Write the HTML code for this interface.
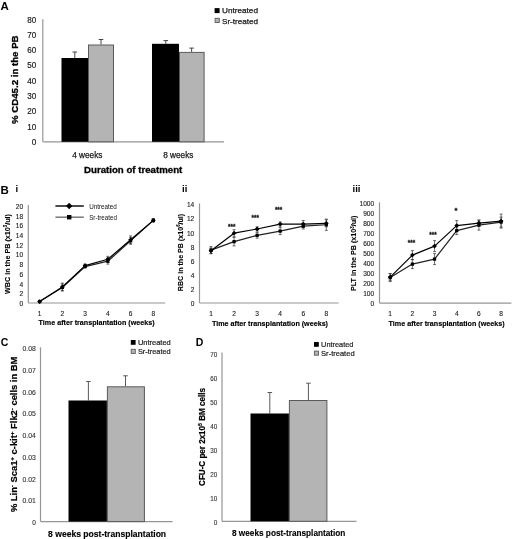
<!DOCTYPE html>
<html><head><meta charset="utf-8"><style>
html,body{margin:0;padding:0;background:#fff;}
body{width:520px;height:539px;overflow:hidden;}
svg{display:block;font-family:"Liberation Sans", sans-serif;filter:blur(0.3px);}
</style></head><body>
<svg width="520" height="539" viewBox="0 0 520 539" fill="#1a1a1a">
<rect width="520" height="539" fill="#fff"/>
<text x="0.50" y="10.30" font-size="11.5" font-weight="bold" fill="#000">A</text>
<line x1="42.80" y1="19.20" x2="42.80" y2="141.80" stroke="#969696" stroke-width="1.2"/>
<line x1="42.80" y1="141.80" x2="224.00" y2="141.80" stroke="#969696" stroke-width="1.2"/>
<text x="36.30" y="145.10" font-size="9.2" text-anchor="end" textLength="4.60" lengthAdjust="spacingAndGlyphs" stroke="#1a1a1a" stroke-width="0.2">0</text>
<text x="36.30" y="129.78" font-size="9.2" text-anchor="end" textLength="9.00" lengthAdjust="spacingAndGlyphs" stroke="#1a1a1a" stroke-width="0.2">10</text>
<text x="36.30" y="114.45" font-size="9.2" text-anchor="end" textLength="9.00" lengthAdjust="spacingAndGlyphs" stroke="#1a1a1a" stroke-width="0.2">20</text>
<text x="36.30" y="99.12" font-size="9.2" text-anchor="end" textLength="9.00" lengthAdjust="spacingAndGlyphs" stroke="#1a1a1a" stroke-width="0.2">30</text>
<text x="36.30" y="83.80" font-size="9.2" text-anchor="end" textLength="9.00" lengthAdjust="spacingAndGlyphs" stroke="#1a1a1a" stroke-width="0.2">40</text>
<text x="36.30" y="68.47" font-size="9.2" text-anchor="end" textLength="9.00" lengthAdjust="spacingAndGlyphs" stroke="#1a1a1a" stroke-width="0.2">50</text>
<text x="36.30" y="53.15" font-size="9.2" text-anchor="end" textLength="9.00" lengthAdjust="spacingAndGlyphs" stroke="#1a1a1a" stroke-width="0.2">60</text>
<text x="36.30" y="37.82" font-size="9.2" text-anchor="end" textLength="9.00" lengthAdjust="spacingAndGlyphs" stroke="#1a1a1a" stroke-width="0.2">70</text>
<text x="36.30" y="22.50" font-size="9.2" text-anchor="end" textLength="9.00" lengthAdjust="spacingAndGlyphs" stroke="#1a1a1a" stroke-width="0.2">80</text>
<line x1="74.80" y1="52.00" x2="74.80" y2="58.00" stroke="#444" stroke-width="1"/>
<line x1="72.50" y1="52.00" x2="77.10" y2="52.00" stroke="#444" stroke-width="1"/>
<line x1="101.00" y1="39.50" x2="101.00" y2="44.50" stroke="#444" stroke-width="1"/>
<line x1="98.70" y1="39.50" x2="103.30" y2="39.50" stroke="#444" stroke-width="1"/>
<line x1="165.80" y1="40.60" x2="165.80" y2="43.80" stroke="#444" stroke-width="1"/>
<line x1="163.50" y1="40.60" x2="168.10" y2="40.60" stroke="#444" stroke-width="1"/>
<line x1="191.60" y1="48.10" x2="191.60" y2="51.90" stroke="#444" stroke-width="1"/>
<line x1="189.30" y1="48.10" x2="193.90" y2="48.10" stroke="#444" stroke-width="1"/>
<rect x="61.50" y="58.00" width="26.50" height="83.80" fill="#000"/>
<rect x="88.50" y="45.00" width="25.00" height="96.80" fill="#b4b4b4" stroke="#5a5a5a" stroke-width="1"/>
<rect x="152.00" y="43.80" width="27.00" height="98.00" fill="#000"/>
<rect x="179.50" y="52.40" width="24.60" height="89.40" fill="#b4b4b4" stroke="#5a5a5a" stroke-width="1"/>
<rect x="214.60" y="8.10" width="5.00" height="5.00" fill="#000"/>
<rect x="215.10" y="18.30" width="4.20" height="4.20" fill="#b4b4b4" stroke="#5a5a5a" stroke-width="0.9"/>
<text x="222.00" y="13.40" font-size="7.8" textLength="36.00" lengthAdjust="spacingAndGlyphs" stroke="#1a1a1a" stroke-width="0.25">Untreated</text>
<text x="222.00" y="23.50" font-size="7.8" textLength="36.00" lengthAdjust="spacingAndGlyphs" stroke="#1a1a1a" stroke-width="0.25">Sr-treated</text>
<text x="87.30" y="158.00" font-size="8.8" text-anchor="middle" textLength="30.20" lengthAdjust="spacingAndGlyphs" stroke="#1a1a1a" stroke-width="0.25">4 weeks</text>
<text x="178.30" y="158.00" font-size="8.8" text-anchor="middle" textLength="30.20" lengthAdjust="spacingAndGlyphs" stroke="#1a1a1a" stroke-width="0.25">8 weeks</text>
<text x="84.00" y="173.30" font-size="9.0" font-weight="bold" textLength="98.30" lengthAdjust="spacingAndGlyphs" fill="#000" stroke="#000" stroke-width="0.3">Duration of treatment</text>
<text x="17.90" y="79.70" font-size="9.2" text-anchor="middle" font-weight="bold" textLength="88.60" lengthAdjust="spacingAndGlyphs" fill="#000" transform="rotate(-90 17.90 79.70)" stroke="#000" stroke-width="0.3">% CD45.2 in the PB</text>
<text x="0.50" y="193.80" font-size="11.5" font-weight="bold" fill="#000">B</text>
<text x="15.60" y="191.60" font-size="9.5" font-weight="bold" fill="#000">i</text>
<text x="182.00" y="192.20" font-size="9.5" font-weight="bold" fill="#000">ii</text>
<text x="352.60" y="192.20" font-size="9.5" font-weight="bold" fill="#000">iii</text>
<line x1="28.30" y1="205.00" x2="28.30" y2="303.00" stroke="#969696" stroke-width="1.2"/>
<line x1="28.30" y1="303.00" x2="165.20" y2="303.00" stroke="#969696" stroke-width="1.2"/>
<text x="23.20" y="306.00" font-size="6.6" text-anchor="end" fill="#222" stroke="#222" stroke-width="0.12">0</text>
<text x="23.20" y="296.28" font-size="6.6" text-anchor="end" fill="#222" stroke="#222" stroke-width="0.12">2</text>
<text x="23.20" y="286.56" font-size="6.6" text-anchor="end" fill="#222" stroke="#222" stroke-width="0.12">4</text>
<text x="23.20" y="276.84" font-size="6.6" text-anchor="end" fill="#222" stroke="#222" stroke-width="0.12">6</text>
<text x="23.20" y="267.12" font-size="6.6" text-anchor="end" fill="#222" stroke="#222" stroke-width="0.12">8</text>
<text x="23.20" y="257.40" font-size="6.6" text-anchor="end" fill="#222" stroke="#222" stroke-width="0.12">10</text>
<text x="23.20" y="247.68" font-size="6.6" text-anchor="end" fill="#222" stroke="#222" stroke-width="0.12">12</text>
<text x="23.20" y="237.96" font-size="6.6" text-anchor="end" fill="#222" stroke="#222" stroke-width="0.12">14</text>
<text x="23.20" y="228.24" font-size="6.6" text-anchor="end" fill="#222" stroke="#222" stroke-width="0.12">16</text>
<text x="23.20" y="218.52" font-size="6.6" text-anchor="end" fill="#222" stroke="#222" stroke-width="0.12">18</text>
<text x="23.20" y="208.80" font-size="6.6" text-anchor="end" fill="#222" stroke="#222" stroke-width="0.12">20</text>
<text x="39.60" y="315.60" font-size="6.6" text-anchor="middle" fill="#222" stroke="#222" stroke-width="0.12">1</text>
<text x="62.35" y="315.60" font-size="6.6" text-anchor="middle" fill="#222" stroke="#222" stroke-width="0.12">2</text>
<text x="85.10" y="315.60" font-size="6.6" text-anchor="middle" fill="#222" stroke="#222" stroke-width="0.12">3</text>
<text x="107.85" y="315.60" font-size="6.6" text-anchor="middle" fill="#222" stroke="#222" stroke-width="0.12">4</text>
<text x="130.60" y="315.60" font-size="6.6" text-anchor="middle" fill="#222" stroke="#222" stroke-width="0.12">6</text>
<text x="153.35" y="315.60" font-size="6.6" text-anchor="middle" fill="#222" stroke="#222" stroke-width="0.12">8</text>
<text x="38.60" y="325.00" font-size="7.7" font-weight="bold" textLength="116.00" lengthAdjust="spacingAndGlyphs" fill="#000" stroke="#000" stroke-width="0.15">Time after transplantation (weeks)</text>
<text x="9.60" y="254.00" font-size="7.5" text-anchor="middle" font-weight="bold" textLength="80.00" lengthAdjust="spacingAndGlyphs" fill="#000" transform="rotate(-90 9.60 254.00)" stroke="#000" stroke-width="0.12">WBC in the PB (x10<tspan font-size="4.5" dy="-2.6">3</tspan><tspan dy="2.6">/ul)</tspan></text>
<line x1="39.60" y1="300.81" x2="39.60" y2="302.27" stroke="#333" stroke-width="0.7"/>
<line x1="38.10" y1="300.81" x2="41.10" y2="300.81" stroke="#333" stroke-width="0.7"/>
<line x1="38.10" y1="302.27" x2="41.10" y2="302.27" stroke="#333" stroke-width="0.7"/>
<line x1="62.35" y1="283.07" x2="62.35" y2="290.85" stroke="#333" stroke-width="0.7"/>
<line x1="60.85" y1="283.07" x2="63.85" y2="283.07" stroke="#333" stroke-width="0.7"/>
<line x1="60.85" y1="290.85" x2="63.85" y2="290.85" stroke="#333" stroke-width="0.7"/>
<line x1="85.10" y1="264.12" x2="85.10" y2="267.04" stroke="#333" stroke-width="0.7"/>
<line x1="83.60" y1="264.12" x2="86.60" y2="264.12" stroke="#333" stroke-width="0.7"/>
<line x1="83.60" y1="267.04" x2="86.60" y2="267.04" stroke="#333" stroke-width="0.7"/>
<line x1="107.85" y1="256.34" x2="107.85" y2="262.18" stroke="#333" stroke-width="0.7"/>
<line x1="106.35" y1="256.34" x2="109.35" y2="256.34" stroke="#333" stroke-width="0.7"/>
<line x1="106.35" y1="262.18" x2="109.35" y2="262.18" stroke="#333" stroke-width="0.7"/>
<line x1="130.60" y1="235.93" x2="130.60" y2="243.71" stroke="#333" stroke-width="0.7"/>
<line x1="129.10" y1="235.93" x2="132.10" y2="235.93" stroke="#333" stroke-width="0.7"/>
<line x1="129.10" y1="243.71" x2="132.10" y2="243.71" stroke="#333" stroke-width="0.7"/>
<line x1="153.35" y1="218.92" x2="153.35" y2="221.84" stroke="#333" stroke-width="0.7"/>
<line x1="151.85" y1="218.92" x2="154.85" y2="218.92" stroke="#333" stroke-width="0.7"/>
<line x1="151.85" y1="221.84" x2="154.85" y2="221.84" stroke="#333" stroke-width="0.7"/>
<line x1="39.60" y1="300.81" x2="39.60" y2="302.27" stroke="#333" stroke-width="0.7"/>
<line x1="38.10" y1="300.81" x2="41.10" y2="300.81" stroke="#333" stroke-width="0.7"/>
<line x1="38.10" y1="302.27" x2="41.10" y2="302.27" stroke="#333" stroke-width="0.7"/>
<line x1="62.35" y1="284.05" x2="62.35" y2="290.85" stroke="#333" stroke-width="0.7"/>
<line x1="60.85" y1="284.05" x2="63.85" y2="284.05" stroke="#333" stroke-width="0.7"/>
<line x1="60.85" y1="290.85" x2="63.85" y2="290.85" stroke="#333" stroke-width="0.7"/>
<line x1="85.10" y1="265.09" x2="85.10" y2="268.01" stroke="#333" stroke-width="0.7"/>
<line x1="83.60" y1="265.09" x2="86.60" y2="265.09" stroke="#333" stroke-width="0.7"/>
<line x1="83.60" y1="268.01" x2="86.60" y2="268.01" stroke="#333" stroke-width="0.7"/>
<line x1="107.85" y1="258.29" x2="107.85" y2="264.12" stroke="#333" stroke-width="0.7"/>
<line x1="106.35" y1="258.29" x2="109.35" y2="258.29" stroke="#333" stroke-width="0.7"/>
<line x1="106.35" y1="264.12" x2="109.35" y2="264.12" stroke="#333" stroke-width="0.7"/>
<line x1="130.60" y1="237.39" x2="130.60" y2="244.19" stroke="#333" stroke-width="0.7"/>
<line x1="129.10" y1="237.39" x2="132.10" y2="237.39" stroke="#333" stroke-width="0.7"/>
<line x1="129.10" y1="244.19" x2="132.10" y2="244.19" stroke="#333" stroke-width="0.7"/>
<line x1="153.35" y1="218.92" x2="153.35" y2="221.84" stroke="#333" stroke-width="0.7"/>
<line x1="151.85" y1="218.92" x2="154.85" y2="218.92" stroke="#333" stroke-width="0.7"/>
<line x1="151.85" y1="221.84" x2="154.85" y2="221.84" stroke="#333" stroke-width="0.7"/>
<polyline points="39.60,301.54 62.35,287.45 85.10,266.55 107.85,261.20 130.60,240.79 153.35,220.38" fill="none" stroke="#222" stroke-width="1.2" stroke-linejoin="round"/>
<polyline points="39.60,301.54 62.35,286.96 85.10,265.58 107.85,259.26 130.60,239.82 153.35,220.38" fill="none" stroke="#000" stroke-width="1.2" stroke-linejoin="round"/>
<rect x="37.98" y="299.93" width="3.23" height="3.23" fill="#000"/>
<rect x="60.73" y="285.83" width="3.23" height="3.23" fill="#000"/>
<rect x="83.48" y="264.94" width="3.23" height="3.23" fill="#000"/>
<rect x="106.23" y="259.59" width="3.23" height="3.23" fill="#000"/>
<rect x="128.98" y="239.18" width="3.23" height="3.23" fill="#000"/>
<rect x="151.73" y="218.76" width="3.23" height="3.23" fill="#000"/>
<path d="M39.60 299.14L42.00 301.54L39.60 303.94L37.20 301.54Z" fill="#000"/>
<path d="M62.35 284.56L64.75 286.96L62.35 289.36L59.95 286.96Z" fill="#000"/>
<path d="M85.10 263.18L87.50 265.58L85.10 267.98L82.70 265.58Z" fill="#000"/>
<path d="M107.85 256.86L110.25 259.26L107.85 261.66L105.45 259.26Z" fill="#000"/>
<path d="M130.60 237.42L133.00 239.82L130.60 242.22L128.20 239.82Z" fill="#000"/>
<path d="M153.35 217.98L155.75 220.38L153.35 222.78L150.95 220.38Z" fill="#000"/>
<line x1="55.40" y1="206.00" x2="83.80" y2="206.00" stroke="#000" stroke-width="1.4"/>
<path d="M69.20 202.80L72.40 206.00L69.20 209.20L66.00 206.00Z" fill="#000"/>
<line x1="55.40" y1="217.20" x2="83.80" y2="217.20" stroke="#777" stroke-width="1.5"/>
<rect x="66.99" y="214.99" width="4.42" height="4.42" fill="#000"/>
<text x="89.20" y="208.90" font-size="7.0" textLength="27.70" lengthAdjust="spacingAndGlyphs" fill="#111">Untreated</text>
<text x="89.20" y="220.00" font-size="7.0" textLength="27.70" lengthAdjust="spacingAndGlyphs" fill="#111">Sr-treated</text>
<line x1="199.50" y1="203.50" x2="199.50" y2="303.00" stroke="#969696" stroke-width="1.2"/>
<line x1="199.50" y1="303.00" x2="338.60" y2="303.00" stroke="#969696" stroke-width="1.2"/>
<text x="194.30" y="306.00" font-size="6.6" text-anchor="end" fill="#222" stroke="#222" stroke-width="0.12">0</text>
<text x="194.30" y="291.90" font-size="6.6" text-anchor="end" fill="#222" stroke="#222" stroke-width="0.12">2</text>
<text x="194.30" y="277.80" font-size="6.6" text-anchor="end" fill="#222" stroke="#222" stroke-width="0.12">4</text>
<text x="194.30" y="263.70" font-size="6.6" text-anchor="end" fill="#222" stroke="#222" stroke-width="0.12">6</text>
<text x="194.30" y="249.60" font-size="6.6" text-anchor="end" fill="#222" stroke="#222" stroke-width="0.12">8</text>
<text x="194.30" y="235.50" font-size="6.6" text-anchor="end" fill="#222" stroke="#222" stroke-width="0.12">10</text>
<text x="194.30" y="221.40" font-size="6.6" text-anchor="end" fill="#222" stroke="#222" stroke-width="0.12">12</text>
<text x="194.30" y="207.30" font-size="6.6" text-anchor="end" fill="#222" stroke="#222" stroke-width="0.12">14</text>
<text x="211.00" y="315.60" font-size="6.6" text-anchor="middle" fill="#222" stroke="#222" stroke-width="0.12">1</text>
<text x="234.06" y="315.60" font-size="6.6" text-anchor="middle" fill="#222" stroke="#222" stroke-width="0.12">2</text>
<text x="257.12" y="315.60" font-size="6.6" text-anchor="middle" fill="#222" stroke="#222" stroke-width="0.12">3</text>
<text x="280.18" y="315.60" font-size="6.6" text-anchor="middle" fill="#222" stroke="#222" stroke-width="0.12">4</text>
<text x="303.24" y="315.60" font-size="6.6" text-anchor="middle" fill="#222" stroke="#222" stroke-width="0.12">6</text>
<text x="326.30" y="315.60" font-size="6.6" text-anchor="middle" fill="#222" stroke="#222" stroke-width="0.12">8</text>
<text x="212.00" y="326.10" font-size="7.7" font-weight="bold" textLength="116.00" lengthAdjust="spacingAndGlyphs" fill="#000" stroke="#000" stroke-width="0.15">Time after transplantation (weeks)</text>
<text x="182.80" y="252.50" font-size="7.5" text-anchor="middle" font-weight="bold" textLength="77.40" lengthAdjust="spacingAndGlyphs" fill="#000" transform="rotate(-90 182.80 252.50)" stroke="#000" stroke-width="0.12">RBC in the PB (x10<tspan font-size="4.5" dy="-2.6">6</tspan><tspan dy="2.6">/ul)</tspan></text>
<line x1="211.00" y1="248.01" x2="211.00" y2="253.65" stroke="#333" stroke-width="0.7"/>
<line x1="209.50" y1="248.01" x2="212.50" y2="248.01" stroke="#333" stroke-width="0.7"/>
<line x1="209.50" y1="253.65" x2="212.50" y2="253.65" stroke="#333" stroke-width="0.7"/>
<line x1="234.06" y1="229.68" x2="234.06" y2="236.73" stroke="#333" stroke-width="0.7"/>
<line x1="232.56" y1="229.68" x2="235.56" y2="229.68" stroke="#333" stroke-width="0.7"/>
<line x1="232.56" y1="236.73" x2="235.56" y2="236.73" stroke="#333" stroke-width="0.7"/>
<line x1="257.12" y1="226.86" x2="257.12" y2="231.09" stroke="#333" stroke-width="0.7"/>
<line x1="255.62" y1="226.86" x2="258.62" y2="226.86" stroke="#333" stroke-width="0.7"/>
<line x1="255.62" y1="231.09" x2="258.62" y2="231.09" stroke="#333" stroke-width="0.7"/>
<line x1="280.18" y1="221.93" x2="280.18" y2="226.16" stroke="#333" stroke-width="0.7"/>
<line x1="278.68" y1="221.93" x2="281.68" y2="221.93" stroke="#333" stroke-width="0.7"/>
<line x1="278.68" y1="226.16" x2="281.68" y2="226.16" stroke="#333" stroke-width="0.7"/>
<line x1="303.24" y1="220.52" x2="303.24" y2="227.56" stroke="#333" stroke-width="0.7"/>
<line x1="301.74" y1="220.52" x2="304.74" y2="220.52" stroke="#333" stroke-width="0.7"/>
<line x1="301.74" y1="227.56" x2="304.74" y2="227.56" stroke="#333" stroke-width="0.7"/>
<line x1="326.30" y1="219.81" x2="326.30" y2="226.86" stroke="#333" stroke-width="0.7"/>
<line x1="324.80" y1="219.81" x2="327.80" y2="219.81" stroke="#333" stroke-width="0.7"/>
<line x1="324.80" y1="226.86" x2="327.80" y2="226.86" stroke="#333" stroke-width="0.7"/>
<line x1="211.00" y1="246.60" x2="211.00" y2="253.65" stroke="#333" stroke-width="0.7"/>
<line x1="209.50" y1="246.60" x2="212.50" y2="246.60" stroke="#333" stroke-width="0.7"/>
<line x1="209.50" y1="253.65" x2="212.50" y2="253.65" stroke="#333" stroke-width="0.7"/>
<line x1="234.06" y1="237.44" x2="234.06" y2="245.90" stroke="#333" stroke-width="0.7"/>
<line x1="232.56" y1="237.44" x2="235.56" y2="237.44" stroke="#333" stroke-width="0.7"/>
<line x1="232.56" y1="245.90" x2="235.56" y2="245.90" stroke="#333" stroke-width="0.7"/>
<line x1="257.12" y1="232.50" x2="257.12" y2="238.14" stroke="#333" stroke-width="0.7"/>
<line x1="255.62" y1="232.50" x2="258.62" y2="232.50" stroke="#333" stroke-width="0.7"/>
<line x1="255.62" y1="238.14" x2="258.62" y2="238.14" stroke="#333" stroke-width="0.7"/>
<line x1="280.18" y1="227.56" x2="280.18" y2="234.62" stroke="#333" stroke-width="0.7"/>
<line x1="278.68" y1="227.56" x2="281.68" y2="227.56" stroke="#333" stroke-width="0.7"/>
<line x1="278.68" y1="234.62" x2="281.68" y2="234.62" stroke="#333" stroke-width="0.7"/>
<line x1="303.24" y1="223.34" x2="303.24" y2="228.98" stroke="#333" stroke-width="0.7"/>
<line x1="301.74" y1="223.34" x2="304.74" y2="223.34" stroke="#333" stroke-width="0.7"/>
<line x1="301.74" y1="228.98" x2="304.74" y2="228.98" stroke="#333" stroke-width="0.7"/>
<line x1="326.30" y1="219.11" x2="326.30" y2="230.39" stroke="#333" stroke-width="0.7"/>
<line x1="324.80" y1="219.11" x2="327.80" y2="219.11" stroke="#333" stroke-width="0.7"/>
<line x1="324.80" y1="230.39" x2="327.80" y2="230.39" stroke="#333" stroke-width="0.7"/>
<polyline points="211.00,250.12 234.06,241.67 257.12,235.32 280.18,231.09 303.24,226.16 326.30,224.75" fill="none" stroke="#222" stroke-width="1.2" stroke-linejoin="round"/>
<polyline points="211.00,250.83 234.06,233.21 257.12,228.98 280.18,224.04 303.24,224.04 326.30,223.34" fill="none" stroke="#000" stroke-width="1.2" stroke-linejoin="round"/>
<rect x="209.38" y="248.51" width="3.23" height="3.23" fill="#000"/>
<rect x="232.44" y="240.05" width="3.23" height="3.23" fill="#000"/>
<rect x="255.50" y="233.70" width="3.23" height="3.23" fill="#000"/>
<rect x="278.56" y="229.48" width="3.23" height="3.23" fill="#000"/>
<rect x="301.62" y="224.54" width="3.23" height="3.23" fill="#000"/>
<rect x="324.69" y="223.13" width="3.23" height="3.23" fill="#000"/>
<path d="M211.00 248.43L213.40 250.83L211.00 253.23L208.60 250.83Z" fill="#000"/>
<path d="M234.06 230.81L236.46 233.21L234.06 235.61L231.66 233.21Z" fill="#000"/>
<path d="M257.12 226.58L259.52 228.98L257.12 231.38L254.72 228.98Z" fill="#000"/>
<path d="M280.18 221.64L282.58 224.04L280.18 226.44L277.78 224.04Z" fill="#000"/>
<path d="M303.24 221.64L305.64 224.04L303.24 226.44L300.84 224.04Z" fill="#000"/>
<path d="M326.30 220.94L328.70 223.34L326.30 225.74L323.90 223.34Z" fill="#000"/>
<text x="231.80" y="228.50" font-size="7.5" text-anchor="middle" font-weight="bold" textLength="7.40" lengthAdjust="spacingAndGlyphs" fill="#111" stroke="#111" stroke-width="0.3">***</text>
<text x="255.30" y="219.90" font-size="7.5" text-anchor="middle" font-weight="bold" textLength="7.40" lengthAdjust="spacingAndGlyphs" fill="#111" stroke="#111" stroke-width="0.3">***</text>
<text x="278.60" y="211.70" font-size="7.5" text-anchor="middle" font-weight="bold" textLength="7.40" lengthAdjust="spacingAndGlyphs" fill="#111" stroke="#111" stroke-width="0.3">***</text>
<line x1="379.50" y1="202.30" x2="379.50" y2="303.10" stroke="#969696" stroke-width="1.2"/>
<line x1="379.50" y1="303.10" x2="511.40" y2="303.10" stroke="#969696" stroke-width="1.2"/>
<text x="374.20" y="306.10" font-size="6.6" text-anchor="end" fill="#222" stroke="#222" stroke-width="0.12">0</text>
<text x="374.20" y="296.10" font-size="6.6" text-anchor="end" fill="#222" stroke="#222" stroke-width="0.12">100</text>
<text x="374.20" y="286.10" font-size="6.6" text-anchor="end" fill="#222" stroke="#222" stroke-width="0.12">200</text>
<text x="374.20" y="276.10" font-size="6.6" text-anchor="end" fill="#222" stroke="#222" stroke-width="0.12">300</text>
<text x="374.20" y="266.10" font-size="6.6" text-anchor="end" fill="#222" stroke="#222" stroke-width="0.12">400</text>
<text x="374.20" y="256.10" font-size="6.6" text-anchor="end" fill="#222" stroke="#222" stroke-width="0.12">500</text>
<text x="374.20" y="246.10" font-size="6.6" text-anchor="end" fill="#222" stroke="#222" stroke-width="0.12">600</text>
<text x="374.20" y="236.10" font-size="6.6" text-anchor="end" fill="#222" stroke="#222" stroke-width="0.12">700</text>
<text x="374.20" y="226.10" font-size="6.6" text-anchor="end" fill="#222" stroke="#222" stroke-width="0.12">800</text>
<text x="374.20" y="216.10" font-size="6.6" text-anchor="end" fill="#222" stroke="#222" stroke-width="0.12">900</text>
<text x="374.20" y="206.10" font-size="6.6" text-anchor="end" fill="#222" stroke="#222" stroke-width="0.12">1000</text>
<text x="390.20" y="315.60" font-size="6.6" text-anchor="middle" fill="#222" stroke="#222" stroke-width="0.12">1</text>
<text x="412.38" y="315.60" font-size="6.6" text-anchor="middle" fill="#222" stroke="#222" stroke-width="0.12">2</text>
<text x="434.56" y="315.60" font-size="6.6" text-anchor="middle" fill="#222" stroke="#222" stroke-width="0.12">3</text>
<text x="456.74" y="315.60" font-size="6.6" text-anchor="middle" fill="#222" stroke="#222" stroke-width="0.12">4</text>
<text x="478.92" y="315.60" font-size="6.6" text-anchor="middle" fill="#222" stroke="#222" stroke-width="0.12">6</text>
<text x="501.10" y="315.60" font-size="6.6" text-anchor="middle" fill="#222" stroke="#222" stroke-width="0.12">8</text>
<text x="388.60" y="325.90" font-size="7.7" font-weight="bold" textLength="116.00" lengthAdjust="spacingAndGlyphs" fill="#000" stroke="#000" stroke-width="0.15">Time after transplantation (weeks)</text>
<text x="356.50" y="253.30" font-size="7.5" text-anchor="middle" font-weight="bold" textLength="75.50" lengthAdjust="spacingAndGlyphs" fill="#000" transform="rotate(-90 356.50 253.30)" stroke="#000" stroke-width="0.12">PLT in the PB (x10<tspan font-size="4.5" dy="-2.6">3</tspan><tspan dy="2.6">/ul)</tspan></text>
<line x1="390.20" y1="273.60" x2="390.20" y2="280.60" stroke="#333" stroke-width="0.7"/>
<line x1="388.70" y1="273.60" x2="391.70" y2="273.60" stroke="#333" stroke-width="0.7"/>
<line x1="388.70" y1="280.60" x2="391.70" y2="280.60" stroke="#333" stroke-width="0.7"/>
<line x1="412.38" y1="250.60" x2="412.38" y2="259.60" stroke="#333" stroke-width="0.7"/>
<line x1="410.88" y1="250.60" x2="413.88" y2="250.60" stroke="#333" stroke-width="0.7"/>
<line x1="410.88" y1="259.60" x2="413.88" y2="259.60" stroke="#333" stroke-width="0.7"/>
<line x1="434.56" y1="240.60" x2="434.56" y2="251.60" stroke="#333" stroke-width="0.7"/>
<line x1="433.06" y1="240.60" x2="436.06" y2="240.60" stroke="#333" stroke-width="0.7"/>
<line x1="433.06" y1="251.60" x2="436.06" y2="251.60" stroke="#333" stroke-width="0.7"/>
<line x1="456.74" y1="220.60" x2="456.74" y2="230.60" stroke="#333" stroke-width="0.7"/>
<line x1="455.24" y1="220.60" x2="458.24" y2="220.60" stroke="#333" stroke-width="0.7"/>
<line x1="455.24" y1="230.60" x2="458.24" y2="230.60" stroke="#333" stroke-width="0.7"/>
<line x1="478.92" y1="220.10" x2="478.92" y2="226.10" stroke="#333" stroke-width="0.7"/>
<line x1="477.42" y1="220.10" x2="480.42" y2="220.10" stroke="#333" stroke-width="0.7"/>
<line x1="477.42" y1="226.10" x2="480.42" y2="226.10" stroke="#333" stroke-width="0.7"/>
<line x1="501.10" y1="214.10" x2="501.10" y2="228.10" stroke="#333" stroke-width="0.7"/>
<line x1="499.60" y1="214.10" x2="502.60" y2="214.10" stroke="#333" stroke-width="0.7"/>
<line x1="499.60" y1="228.10" x2="502.60" y2="228.10" stroke="#333" stroke-width="0.7"/>
<line x1="390.20" y1="273.60" x2="390.20" y2="281.60" stroke="#333" stroke-width="0.7"/>
<line x1="388.70" y1="273.60" x2="391.70" y2="273.60" stroke="#333" stroke-width="0.7"/>
<line x1="388.70" y1="281.60" x2="391.70" y2="281.60" stroke="#333" stroke-width="0.7"/>
<line x1="412.38" y1="259.60" x2="412.38" y2="268.60" stroke="#333" stroke-width="0.7"/>
<line x1="410.88" y1="259.60" x2="413.88" y2="259.60" stroke="#333" stroke-width="0.7"/>
<line x1="410.88" y1="268.60" x2="413.88" y2="268.60" stroke="#333" stroke-width="0.7"/>
<line x1="434.56" y1="253.60" x2="434.56" y2="264.60" stroke="#333" stroke-width="0.7"/>
<line x1="433.06" y1="253.60" x2="436.06" y2="253.60" stroke="#333" stroke-width="0.7"/>
<line x1="433.06" y1="264.60" x2="436.06" y2="264.60" stroke="#333" stroke-width="0.7"/>
<line x1="456.74" y1="226.60" x2="456.74" y2="234.60" stroke="#333" stroke-width="0.7"/>
<line x1="455.24" y1="226.60" x2="458.24" y2="226.60" stroke="#333" stroke-width="0.7"/>
<line x1="455.24" y1="234.60" x2="458.24" y2="234.60" stroke="#333" stroke-width="0.7"/>
<line x1="478.92" y1="220.10" x2="478.92" y2="230.10" stroke="#333" stroke-width="0.7"/>
<line x1="477.42" y1="220.10" x2="480.42" y2="220.10" stroke="#333" stroke-width="0.7"/>
<line x1="477.42" y1="230.10" x2="480.42" y2="230.10" stroke="#333" stroke-width="0.7"/>
<line x1="501.10" y1="217.10" x2="501.10" y2="227.10" stroke="#333" stroke-width="0.7"/>
<line x1="499.60" y1="217.10" x2="502.60" y2="217.10" stroke="#333" stroke-width="0.7"/>
<line x1="499.60" y1="227.10" x2="502.60" y2="227.10" stroke="#333" stroke-width="0.7"/>
<polyline points="390.20,277.60 412.38,264.10 434.56,259.10 456.74,230.60 478.92,225.10 501.10,222.10" fill="none" stroke="#222" stroke-width="1.2" stroke-linejoin="round"/>
<polyline points="390.20,277.10 412.38,255.10 434.56,246.10 456.74,225.60 478.92,223.10 501.10,221.10" fill="none" stroke="#000" stroke-width="1.2" stroke-linejoin="round"/>
<rect x="388.58" y="275.99" width="3.23" height="3.23" fill="#000"/>
<rect x="410.76" y="262.49" width="3.23" height="3.23" fill="#000"/>
<rect x="432.94" y="257.49" width="3.23" height="3.23" fill="#000"/>
<rect x="455.12" y="228.98" width="3.23" height="3.23" fill="#000"/>
<rect x="477.30" y="223.48" width="3.23" height="3.23" fill="#000"/>
<rect x="499.49" y="220.48" width="3.23" height="3.23" fill="#000"/>
<path d="M390.20 274.70L392.60 277.10L390.20 279.50L387.80 277.10Z" fill="#000"/>
<path d="M412.38 252.70L414.78 255.10L412.38 257.50L409.98 255.10Z" fill="#000"/>
<path d="M434.56 243.70L436.96 246.10L434.56 248.50L432.16 246.10Z" fill="#000"/>
<path d="M456.74 223.20L459.14 225.60L456.74 228.00L454.34 225.60Z" fill="#000"/>
<path d="M478.92 220.70L481.32 223.10L478.92 225.50L476.52 223.10Z" fill="#000"/>
<path d="M501.10 218.70L503.50 221.10L501.10 223.50L498.70 221.10Z" fill="#000"/>
<text x="411.50" y="244.90" font-size="7.5" text-anchor="middle" font-weight="bold" textLength="7.40" lengthAdjust="spacingAndGlyphs" fill="#111" stroke="#111" stroke-width="0.3">***</text>
<text x="433.00" y="237.30" font-size="7.5" text-anchor="middle" font-weight="bold" textLength="7.40" lengthAdjust="spacingAndGlyphs" fill="#111" stroke="#111" stroke-width="0.3">***</text>
<text x="456.00" y="213.10" font-size="7.5" text-anchor="middle" font-weight="bold" fill="#111" stroke="#111" stroke-width="0.3">*</text>
<text x="0.80" y="346.30" font-size="10.5" font-weight="bold" fill="#000">C</text>
<line x1="40.50" y1="347.30" x2="40.50" y2="521.60" stroke="#969696" stroke-width="1.2"/>
<line x1="40.50" y1="521.60" x2="172.60" y2="521.60" stroke="#969696" stroke-width="1.2"/>
<text x="35.80" y="525.00" font-size="7.2" text-anchor="end" textLength="3.60" lengthAdjust="spacingAndGlyphs" fill="#333" stroke="#333" stroke-width="0.12">0</text>
<text x="35.80" y="503.27" font-size="7.2" text-anchor="end" textLength="13.30" lengthAdjust="spacingAndGlyphs" fill="#333" stroke="#333" stroke-width="0.12">0.01</text>
<text x="35.80" y="481.55" font-size="7.2" text-anchor="end" textLength="13.30" lengthAdjust="spacingAndGlyphs" fill="#333" stroke="#333" stroke-width="0.12">0.02</text>
<text x="35.80" y="459.82" font-size="7.2" text-anchor="end" textLength="13.30" lengthAdjust="spacingAndGlyphs" fill="#333" stroke="#333" stroke-width="0.12">0.03</text>
<text x="35.80" y="438.10" font-size="7.2" text-anchor="end" textLength="13.30" lengthAdjust="spacingAndGlyphs" fill="#333" stroke="#333" stroke-width="0.12">0.04</text>
<text x="35.80" y="416.38" font-size="7.2" text-anchor="end" textLength="13.30" lengthAdjust="spacingAndGlyphs" fill="#333" stroke="#333" stroke-width="0.12">0.05</text>
<text x="35.80" y="394.65" font-size="7.2" text-anchor="end" textLength="13.30" lengthAdjust="spacingAndGlyphs" fill="#333" stroke="#333" stroke-width="0.12">0.06</text>
<text x="35.80" y="372.92" font-size="7.2" text-anchor="end" textLength="13.30" lengthAdjust="spacingAndGlyphs" fill="#333" stroke="#333" stroke-width="0.12">0.07</text>
<text x="35.80" y="351.20" font-size="7.2" text-anchor="end" textLength="13.30" lengthAdjust="spacingAndGlyphs" fill="#333" stroke="#333" stroke-width="0.12">0.08</text>
<line x1="88.40" y1="381.50" x2="88.40" y2="400.50" stroke="#5a5a5a" stroke-width="1"/>
<line x1="86.10" y1="381.50" x2="90.70" y2="381.50" stroke="#5a5a5a" stroke-width="1"/>
<line x1="125.50" y1="375.80" x2="125.50" y2="386.30" stroke="#5a5a5a" stroke-width="1"/>
<line x1="123.20" y1="375.80" x2="127.80" y2="375.80" stroke="#5a5a5a" stroke-width="1"/>
<rect x="68.50" y="400.50" width="38.40" height="121.10" fill="#000"/>
<rect x="107.40" y="386.80" width="37.00" height="134.80" fill="#b4b4b4" stroke="#5a5a5a" stroke-width="1"/>
<rect x="130.80" y="340.00" width="4.80" height="4.80" fill="#000"/>
<rect x="131.20" y="349.30" width="4.10" height="4.10" fill="#b4b4b4" stroke="#5a5a5a" stroke-width="0.9"/>
<text x="137.90" y="344.80" font-size="7.8" textLength="32.80" lengthAdjust="spacingAndGlyphs" stroke="#1a1a1a" stroke-width="0.2">Untreated</text>
<text x="137.90" y="354.20" font-size="7.8" textLength="32.80" lengthAdjust="spacingAndGlyphs" stroke="#1a1a1a" stroke-width="0.2">Sr-treated</text>
<text x="48.10" y="536.90" font-size="9.3" font-weight="bold" textLength="118.00" lengthAdjust="spacingAndGlyphs" fill="#000" stroke="#000" stroke-width="0.15">8 weeks post-transplantation</text>
<text x="17.20" y="434.40" font-size="9.0" text-anchor="middle" font-weight="bold" textLength="155.30" lengthAdjust="spacingAndGlyphs" fill="#000" transform="rotate(-90 17.20 434.40)" stroke="#000" stroke-width="0.22">% Lin<tspan font-size="6" dy="-3.4">-</tspan><tspan dy="3.4"> Sca1</tspan><tspan font-size="6" dy="-3.4">+</tspan><tspan dy="3.4"> c-kit</tspan><tspan font-size="6" dy="-3.4">+</tspan><tspan dy="3.4"> Flk2</tspan><tspan font-size="6" dy="-3.4">-</tspan><tspan dy="3.4"> cells in BM</tspan></text>
<text x="195.80" y="346.20" font-size="10.5" font-weight="bold" fill="#000">D</text>
<line x1="222.00" y1="352.60" x2="222.00" y2="521.30" stroke="#969696" stroke-width="1.2"/>
<line x1="222.00" y1="521.30" x2="356.50" y2="521.30" stroke="#969696" stroke-width="1.2"/>
<text x="217.30" y="524.70" font-size="7.2" text-anchor="end" textLength="3.60" lengthAdjust="spacingAndGlyphs" fill="#333" stroke="#333" stroke-width="0.12">0</text>
<text x="217.30" y="500.71" font-size="7.2" text-anchor="end" textLength="7.00" lengthAdjust="spacingAndGlyphs" fill="#333" stroke="#333" stroke-width="0.12">10</text>
<text x="217.30" y="476.73" font-size="7.2" text-anchor="end" textLength="7.00" lengthAdjust="spacingAndGlyphs" fill="#333" stroke="#333" stroke-width="0.12">20</text>
<text x="217.30" y="452.74" font-size="7.2" text-anchor="end" textLength="7.00" lengthAdjust="spacingAndGlyphs" fill="#333" stroke="#333" stroke-width="0.12">30</text>
<text x="217.30" y="428.76" font-size="7.2" text-anchor="end" textLength="7.00" lengthAdjust="spacingAndGlyphs" fill="#333" stroke="#333" stroke-width="0.12">40</text>
<text x="217.30" y="404.77" font-size="7.2" text-anchor="end" textLength="7.00" lengthAdjust="spacingAndGlyphs" fill="#333" stroke="#333" stroke-width="0.12">50</text>
<text x="217.30" y="380.79" font-size="7.2" text-anchor="end" textLength="7.00" lengthAdjust="spacingAndGlyphs" fill="#333" stroke="#333" stroke-width="0.12">60</text>
<text x="217.30" y="356.80" font-size="7.2" text-anchor="end" textLength="7.00" lengthAdjust="spacingAndGlyphs" fill="#333" stroke="#333" stroke-width="0.12">70</text>
<line x1="269.80" y1="392.50" x2="269.80" y2="413.50" stroke="#5a5a5a" stroke-width="1"/>
<line x1="267.50" y1="392.50" x2="272.10" y2="392.50" stroke="#5a5a5a" stroke-width="1"/>
<line x1="308.40" y1="383.20" x2="308.40" y2="400.00" stroke="#5a5a5a" stroke-width="1"/>
<line x1="306.10" y1="383.20" x2="310.70" y2="383.20" stroke="#5a5a5a" stroke-width="1"/>
<rect x="250.50" y="413.50" width="38.40" height="107.80" fill="#000"/>
<rect x="289.40" y="400.50" width="37.50" height="120.80" fill="#b4b4b4" stroke="#5a5a5a" stroke-width="1"/>
<rect x="314.00" y="342.00" width="4.80" height="4.80" fill="#000"/>
<rect x="314.40" y="351.10" width="4.10" height="4.10" fill="#b4b4b4" stroke="#5a5a5a" stroke-width="0.9"/>
<text x="321.10" y="346.80" font-size="7.8" textLength="32.30" lengthAdjust="spacingAndGlyphs" stroke="#1a1a1a" stroke-width="0.2">Untreated</text>
<text x="321.10" y="356.20" font-size="7.8" textLength="33.50" lengthAdjust="spacingAndGlyphs" stroke="#1a1a1a" stroke-width="0.2">Sr-treated</text>
<text x="232.00" y="536.30" font-size="9.0" font-weight="bold" textLength="113.40" lengthAdjust="spacingAndGlyphs" fill="#000" stroke="#000" stroke-width="0.12">8 weeks post-transplantation</text>
<text x="205.00" y="437.00" font-size="8.6" text-anchor="middle" font-weight="bold" textLength="97.80" lengthAdjust="spacingAndGlyphs" fill="#000" transform="rotate(-90 205.00 437.00)" stroke="#000" stroke-width="0.2">CFU-C per 2x10<tspan font-size="5.5" dy="-3">5</tspan><tspan dy="3"> BM cells</tspan></text>
</svg>
</body></html>
